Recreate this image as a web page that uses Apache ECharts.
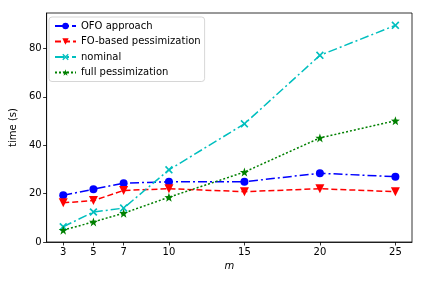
<!DOCTYPE html>
<html><head><meta charset="utf-8">
<script src="https://cdn.jsdelivr.net/npm/echarts@6/dist/echarts.min.js"></script>
<style>html,body{margin:0;padding:0;background:#fff}#c{width:425px;height:284px}</style>
</head><body><div id="c"></div>
<script>
const mValues = [3, 5, 7, 10, 15, 20, 25];
const ofo = [19.3, 21.8, 24.3, 24.9, 24.9, 28.4, 27.0];
const foPess = [16.2, 17.1, 21.3, 22.0, 20.8, 22.0, 20.8];
const nominal = [6.3, 12.4, 14.0, 29.8, 48.8, 77.1, 89.5];
const fullPess = [4.9, 8.3, 11.9, 18.5, 28.9, 43.0, 50.1];
const yTicks = [0, 20, 40, 60, 80];
const names = ['OFO approach', 'FO-based pessimization', 'nominal', 'full pessimization'];

const pair = arr => mValues.map((m, i) => [m, arr[i]]);
const xPath = 'path://M0,1.5L1.5,0L5,3.5L8.5,0L10,1.5L6.5,5L10,8.5L8.5,10L5,6.5L1.5,10L0,8.5L3.5,5Z';
const starPath = 'path://M5,0L6.18,3.38L9.76,3.45L6.9,5.62L7.94,9.05L5,7L2.06,9.05L3.1,5.62L0.24,3.45L3.82,3.38Z';
const font = 'DejaVu Sans';
const chart = echarts.init(document.getElementById('c'), null, {renderer: 'canvas'});
chart.setOption({
  animation: false,
  backgroundColor: '#fff',
  grid: {left: 44, right: 13, top: 13, bottom: 42, show: true, borderColor: '#000', borderWidth: 0.8, backgroundColor: 'transparent'},
  xAxis: {
    type: 'value', min: 1.9, max: 26.1,
    name: 'm', nameLocation: 'middle', nameGap: 18,
    nameTextStyle: {fontFamily: font, fontStyle: 'italic', fontSize: 10, color: '#000'},
    axisLine: {show: true, lineStyle: {color: '#000', width: 0.8}},
    axisTick: {show: true, length: 3.5, lineStyle: {color: '#000', width: 0.8}, customValues: mValues},
    axisLabel: {fontFamily: font, fontSize: 10, color: '#000', margin: 5, customValues: mValues},
    splitLine: {show: false}
  },
  yAxis: {
    type: 'value', min: 0, max: 94.6, interval: 20,
    name: 'time (s)', nameLocation: 'middle', nameGap: 27,
    nameTextStyle: {fontFamily: font, fontSize: 10, color: '#000'},
    axisLine: {show: true, lineStyle: {color: '#000', width: 0.8}},
    axisTick: {show: true, length: 3.5, lineStyle: {color: '#000', width: 0.8}, customValues: yTicks},
    axisLabel: {fontFamily: font, fontSize: 10, color: '#000', margin: 5, customValues: yTicks},
    splitLine: {show: false}
  },
  legend: {
    orient: 'vertical', left: 49, top: 17,
    padding: [4, 4, 4, 5], itemGap: 5.5, itemWidth: 21, itemHeight: 8,
    borderColor: '#ccc', borderWidth: 0.8, borderRadius: 3, backgroundColor: 'rgba(255,255,255,0.8)',
    textStyle: {fontFamily: font, fontSize: 10, color: '#000'},
    data: names
  },
  series: [
    {name: names[0], type: 'line', data: pair(ofo), color: '#0000ff', symbol: 'circle', symbolSize: 8,
     lineStyle: {width: 1.5, type: [9, 3, 2, 3]}, itemStyle: {color: '#0000ff'}},
    {name: names[1], type: 'line', data: pair(foPess), color: '#ff0000', symbol: 'triangle', symbolRotate: 180, symbolSize: 9,
     lineStyle: {width: 1.5, type: [6, 3]}, itemStyle: {color: '#ff0000'}},
    {name: names[2], type: 'line', data: pair(nominal), color: '#00bfbf', symbol: xPath, symbolSize: 8,
     lineStyle: {width: 1.5, type: [9, 3, 2, 3]}, itemStyle: {color: '#00bfbf'}},
    {name: names[3], type: 'line', data: pair(fullPess), color: '#008000', symbol: starPath, symbolSize: 9,
     lineStyle: {width: 1.5, type: [2, 2]}, itemStyle: {color: '#008000'}}
  ]
});
</script></body></html>
